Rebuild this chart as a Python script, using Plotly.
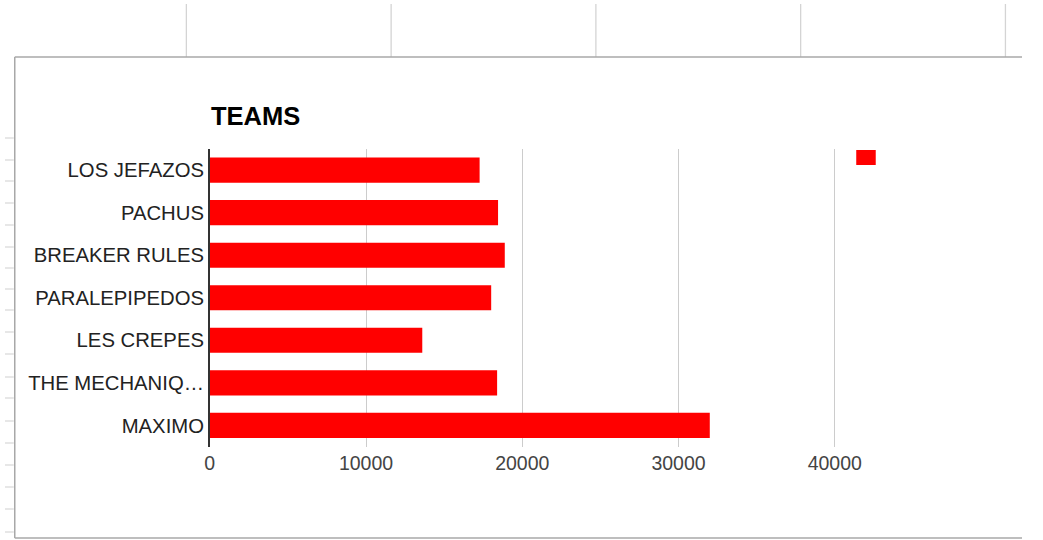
import plotly.graph_objects as go

# Team totals (horizontal bar chart)
teams = ["LOS JEFAZOS", "PACHUS", "BREAKER RULES", "PARALEPIPEDOS",
         "LES CREPES", "THE MECHANIQ…", "MAXIMO"]
points = [17270, 18450, 18880, 18010, 13600, 18390, 32000]
x_ticks = [0, 10000, 20000, 30000, 40000]

W, H = 1043, 540
FONT = "Liberation Sans, Arial, sans-serif"
X_MAX = 40400  # a little past the last tick so its grid line is drawn

fig = go.Figure()
fig.add_trace(go.Bar(
    x=points, y=teams, orientation="h",
    marker=dict(color="#ff0000", line=dict(width=0)),
    width=0.59, showlegend=False, hoverinfo="x+y",
))


def px(x):
    return x / W


def py(y):
    return 1 - y / H


def hline(x0, x1, y, color, width):
    return dict(type="line", xref="paper", yref="paper",
                x0=px(x0), x1=px(x1), y0=py(y), y1=py(y),
                line=dict(color=color, width=width))


def vline(x, y0, y1, color, width):
    return dict(type="line", xref="paper", yref="paper",
                x0=px(x), x1=px(x), y0=py(y0), y1=py(y1),
                line=dict(color=color, width=width))


shapes = []
# spreadsheet column lines above the chart
for gx in [186, 396, 606, 816, 1026]:
    shapes.append(vline(gx, 4, 57, "#d4d4d4", 1.3))
# spreadsheet row lines at the left edge
for gy in [138, 160, 181, 203, 225, 247, 268, 289, 310, 332, 354, 377,
           398, 421, 443, 465, 487, 509, 532]:
    shapes.append(hline(0, 9, gy, "#cfcfcf", 1))
# chart frame (runs off the right edge)
shapes.append(hline(10, W, 57, "#a8a8a8", 1.5))
shapes.append(hline(10, W, 538, "#a8a8a8", 1.5))
shapes.append(vline(10, 57, 538, "#a8a8a8", 1.5))
# legend key
shapes.append(dict(type="rect", xref="paper", yref="paper",
                   x0=px(873), x1=px(893), y0=py(165), y1=py(150),
                   line=dict(width=0), fillcolor="#ff0000"))

x_right = 210 + 641 * X_MAX / 40000

fig.update_layout(
    width=W, height=H,
    margin=dict(l=0, r=0, t=0, b=0),
    paper_bgcolor="white", plot_bgcolor="white",
    font=dict(family=FONT, color="#222222"),
    shapes=shapes,
    showlegend=False,
    annotations=[dict(text="<b>TEAMS</b>", xref="paper", yref="paper",
                      x=px(209), y=py(116), xanchor="left", yanchor="middle",
                      showarrow=False,
                      font=dict(size=25.5, color="#000000", family=FONT))],
    xaxis=dict(
        domain=[px(210), px(x_right)], range=[0, X_MAX],
        tickvals=x_ticks, tickformat="d",
        showgrid=True, gridcolor="#cccccc", gridwidth=1.2,
        zeroline=False, showline=False, ticks="",
        ticklabelstandoff=3,
        tickfont=dict(size=19.5, color="#444444", family=FONT),
        fixedrange=True,
    ),
    yaxis=dict(
        domain=[1 - 446.7 / H, 1 - 148.8 / H],
        categoryorder="array", categoryarray=teams,
        autorange="reversed",
        showgrid=False, zeroline=False,
        showline=True, linecolor="#333333", linewidth=1.5,
        ticks="", ticklabelstandoff=0,
        tickfont=dict(size=20.3, color="#222222", family=FONT),
        fixedrange=True,
    ),
)

fig.write_html(
    "out.html",
    post_script="document.body.style.margin='0';document.body.style.overflow='hidden';",
)
